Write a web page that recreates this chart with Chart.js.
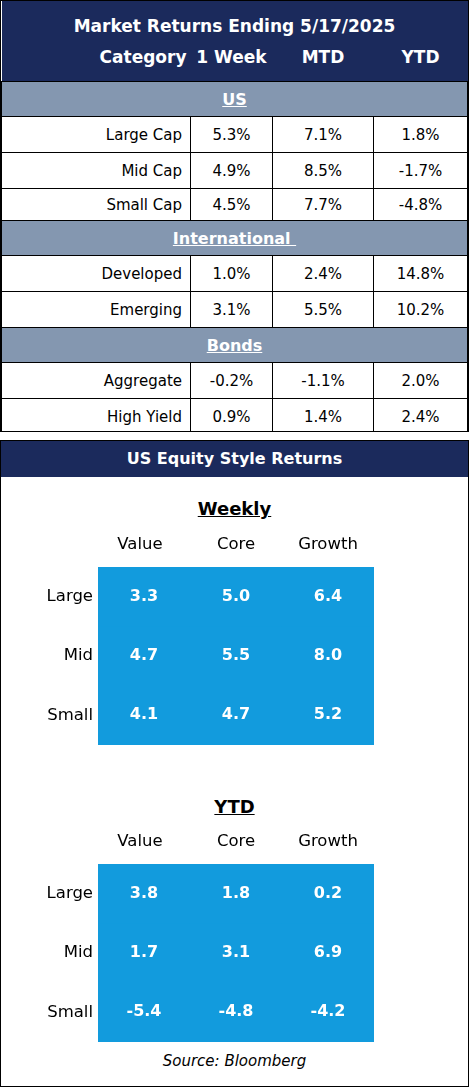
<!DOCTYPE html><html><head><meta charset="utf-8">
<script src="https://cdn.jsdelivr.net/npm/chart.js@4"></script>
<style>
body{margin:0;background:#fff;font-family:"DejaVu Sans",sans-serif;}
.box{position:absolute;left:0;width:467px;border:1px solid #000;overflow:hidden;}
table{border-collapse:collapse;width:100%;font-size:15px;table-layout:fixed;}
td{border:1px solid #000;text-align:center;padding:0;}
.hd td{border:none;background:#1B2A5C;color:#fff;font-weight:bold;font-size:17px;}
.band td{background:#8497B0;color:#fff;font-weight:bold;text-decoration:underline;height:34px;font-size:16px;}
td.cat{text-align:right;padding-right:8px;}
</style></head><body>
<div class="box" style="top:0;height:430px;">
<table id="t"><colgroup><col style="width:189px"><col style="width:82px"><col style="width:101px"><col></colgroup></table></div>
<div class="box" style="top:440px;height:645px;">
<div style="background:#1B2A5C;color:#fff;font-weight:bold;text-align:center;height:36px;line-height:36px;font-size:16px;">US Equity Style Returns</div>
<div style="position:absolute;top:57px;width:100%;text-align:center;font-weight:bold;text-decoration:underline;font-size:18px;">Weekly</div>
<div style="position:absolute;top:84px;left:0;width:467px;height:222px;"><canvas id="c1"></canvas></div>
<div style="position:absolute;top:355px;width:100%;text-align:center;font-weight:bold;text-decoration:underline;font-size:18px;">YTD</div>
<div style="position:absolute;top:381px;left:0;width:467px;height:222px;"><canvas id="c2"></canvas></div>
<div style="position:absolute;top:611px;width:100%;text-align:center;font-style:italic;font-size:15px;">Source: Bloomberg</div>
</div>
<script>
const title="Market Returns Ending 5/17/2025";
const columns=["Category","1 Week","MTD","YTD"];
const groups=["US","International ","Bonds"];
const categories=[["Large Cap","Mid Cap","Small Cap"],["Developed","Emerging"],["Aggregate","High Yield"]];
const week=[[5.3,4.9,4.5],[1.0,3.1],[-0.2,0.9]];
const mtd=[[7.1,8.5,7.7],[2.4,5.5],[-1.1,1.4]];
const ytd=[[1.8,-1.7,-4.8],[14.8,10.2],[2.0,2.4]];
const styles=["Value","Core","Growth"];
const sizes=["Large","Mid","Small"];
const weeklyGrid=[[3.3,5.0,6.4],[4.7,5.5,8.0],[4.1,4.7,5.2]];
const ytdGrid=[[3.8,1.8,0.2],[1.7,3.1,6.9],[-5.4,-4.8,-4.2]];

const f=v=>v.toFixed(1)+"%";
let h=`<tr class="hd"><td colspan="4" style="height:42px;padding-top:4px">${title}</td></tr>`;
h+=`<tr class="hd"><td style="text-align:right;padding-right:4px;height:34px;vertical-align:top">${columns[0]}</td><td style="vertical-align:top">${columns[1]}</td><td style="vertical-align:top">${columns[2]}</td><td style="vertical-align:top">${columns[3]}</td></tr>`;
groups.forEach((g,i)=>{
 h+=`<tr class="band"><td colspan="4"><span style="white-space:pre">${g}</span></td></tr>`;
 categories[i].forEach((c,j)=>{h+=`<tr style="height:${i==0&&j==2?32:36}px"><td class="cat">${c}</td><td>${f(week[i][j])}</td><td>${f(mtd[i][j])}</td><td>${f(ytd[i][j])}</td></tr>`;});
});
document.getElementById('t').insertAdjacentHTML('beforeend',h);

function grid(id,vals){
 const lbl={id:'lbl',afterDatasetsDraw(ch){
  const c=ch.ctx,x=ch.scales.x,y=ch.scales.y;
  c.save();c.font='16.5px "DejaVu Sans"';c.fillStyle='#000';c.textBaseline='middle';
  styles.forEach((s,i)=>{c.textAlign='center';c.fillText(s,x.getPixelForValue(i)+(i==0?-4:0),20);});
  sizes.forEach((s,j)=>{c.textAlign='right';c.fillText(s,92,y.getPixelForValue(3-j-0.5));});
  c.font='bold 16px "DejaVu Sans"';c.fillStyle='#fff';c.textAlign='center';
  ch.data.datasets.forEach((d,j)=>{ch.getDatasetMeta(j).data.forEach((b,i)=>{c.fillText(vals[j][i].toFixed(1),b.x,(b.y+b.base)/2);});});
  c.restore();}};
 new Chart(document.getElementById(id),{type:'bar',
  data:{labels:styles,datasets:sizes.map((s,j)=>({label:s,data:styles.map(()=>[2-j,3-j]),backgroundColor:'#129BDD',borderWidth:0,barPercentage:1,categoryPercentage:1}))},
  options:{responsive:false,animation:false,maintainAspectRatio:false,layout:{padding:{left:97,right:94,top:42,bottom:0}},
   plugins:{legend:{display:false},tooltip:{enabled:false}},
   scales:{x:{display:false,stacked:true},y:{display:false,min:0,max:3}}},plugins:[lbl]});
}
['c1','c2'].forEach(id=>{const e=document.getElementById(id);e.width=467;e.height=220;});
grid('c1',weeklyGrid);grid('c2',ytdGrid);
</script></body></html>
